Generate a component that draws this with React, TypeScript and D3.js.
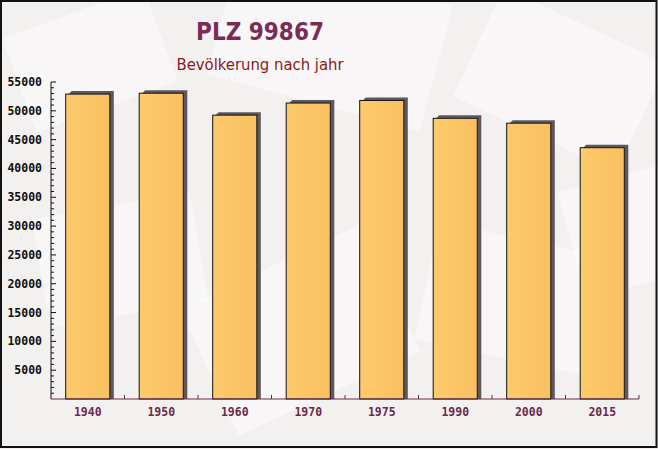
import React from "react";
import * as d3 from "d3";

const years = ["1940", "1950", "1960", "1970", "1975", "1990", "2000", "2015"];
const population = [52900, 53050, 49250, 51350, 51800, 48700, 47850, 43600];
const yTicks = [5000, 10000, 15000, 20000, 25000, 30000, 35000, 40000, 45000, 50000, 55000];
const title = "PLZ 99867";
const subtitle = "Bevölkerung nach jahr";

const W = 658;
const H = 449;
const left = 51;
const right = 639;
const top = 82;
const bottom = 399;

export default function App() {
  const x = d3.scaleBand<string>().domain(years).range([left, right]).paddingInner(0.4).paddingOuter(0.2);
  const xb = d3.scaleBand<string>().domain(years).range([left, right]);
  const y = d3.scaleLinear().domain([0, 55000]).range([bottom, top]);
  const minor = d3.range(1000, 55001, 1000).filter((v) => v % 5000 !== 0);
  const mono = "'DejaVu Sans Mono', monospace";
  const cond = "'DejaVu Sans Condensed', 'DejaVu Sans', sans-serif";
  const bg = [
    { cx: 90, cy: 60, w: 150, h: 100, r: -20 },
    { cx: 330, cy: 40, w: 220, h: 130, r: 15 },
    { cx: 560, cy: 80, w: 180, h: 120, r: 25 },
    { cx: 120, cy: 260, w: 160, h: 110, r: -10 },
    { cx: 300, cy: 330, w: 200, h: 140, r: -25 },
    { cx: 520, cy: 300, w: 190, h: 120, r: 12 },
    { cx: 630, cy: 230, w: 120, h: 110, r: -15 },
  ];
  return (
    <svg width={W} height={H} style={{ position: "absolute", left: 0, top: 0 }}>
      <defs>
        <linearGradient id="barg" x1="0" x2="1" y1="0" y2="0">
          <stop offset="0" stopColor="#fdca6c" />
          <stop offset="1" stopColor="#f8c060" />
        </linearGradient>
      </defs>
      <rect x={0} y={0} width={W} height={H} fill="#f3f0f0" />
      {bg.map((b, i) => (
        <rect
          key={i}
          x={b.cx - b.w / 2}
          y={b.cy - b.h / 2}
          width={b.w}
          height={b.h}
          fill="#ffffff"
          opacity={0.4}
          transform={`rotate(${b.r} ${b.cx} ${b.cy})`}
        />
      ))}
      <text x={260} y={40} textAnchor="middle" fontFamily={cond} fontStretch="condensed" fontWeight="bold" fontSize={24} fill="#7a2c56">
        {title}
      </text>
      <text x={260} y={70} textAnchor="middle" fontFamily={cond} fontStretch="condensed" fontSize={16.5} fill="#8b1a1a">
        {subtitle}
      </text>
      {years.map((yr, i) => {
        const bx = x(yr)!;
        const bw = x.bandwidth();
        const by = y(population[i]);
        return (
          <g key={yr}>
            <polygon
              points={`${bx + bw},${by} ${bx + 3},${by} ${bx + 6},${by - 3} ${bx + bw + 4},${by - 3} ${bx + bw + 4},${bottom} ${bx + bw},${bottom}`}
              fill="#5e585c"
            />
            <rect x={bx} y={by} width={bw} height={bottom - by} fill="url(#barg)" stroke="#111" strokeWidth={1} />
          </g>
        );
      })}
      <line x1={left} x2={left} y1={top} y2={bottom} stroke="#111" />
      <line x1={left} x2={right} y1={bottom} y2={bottom} stroke="#6b2a4a" />
      {yTicks.map((t) => (
        <g key={t}>
          <line x1={left} x2={left + 5} y1={y(t)} y2={y(t)} stroke="#111" />
          <text x={42} y={y(t) + 4} textAnchor="end" fontFamily={mono} fontWeight="bold" fontSize={11.5} fill="#111">
            {t}
          </text>
        </g>
      ))}
      {minor.map((t) => (
        <line key={t} x1={left} x2={left + 3} y1={y(t)} y2={y(t)} stroke="#111" />
      ))}
      {years.map((yr) => (
        <line key={yr} x1={xb(yr)! + xb.bandwidth()} x2={xb(yr)! + xb.bandwidth()} y1={bottom} y2={bottom - 4} stroke="#6b2a4a" />
      ))}
      {years.map((yr) => (
        <text key={yr} x={x(yr)! + x.bandwidth() / 2} y={416} textAnchor="middle" fontFamily={mono} fontWeight="bold" fontSize={11.5} fill="#6b2a4a">
          {yr}
        </text>
      ))}
      <rect x={1} y={1} width={W - 2.5} height={H - 3} fill="none" stroke="#111" strokeWidth={2} />
    </svg>
  );
}
